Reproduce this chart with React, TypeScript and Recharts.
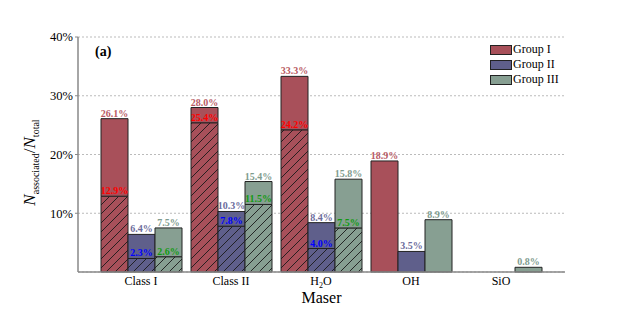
import React from "react";
import { BarChart, Bar, XAxis, YAxis, CartesianGrid, LabelList } from "recharts";

const MASERS = ["Class I", "Class II", "H2O", "OH", "SiO"];

// total fraction per group (%)
const GROUP1_TOTAL = [26.1, 28.0, 33.3, 18.9, 0];
const GROUP2_TOTAL = [6.4, 10.3, 8.4, 3.5, 0];
const GROUP3_TOTAL = [7.5, 15.4, 15.8, 8.9, 0.8];

// hatched (associated) part per group (%)
const GROUP1_INNER = [12.9, 25.4, 24.2, 0, 0];
const GROUP2_INNER = [2.3, 7.8, 4.0, 0, 0];
const GROUP3_INNER = [2.6, 11.5, 7.5, 0, 0];

const Y_TICKS = [10, 20, 30, 40];

const GROUPS = [
  { key: "g1", name: "Group I", fill: "#a8505a", top: "#b85a64", inner: "#ff0000" },
  { key: "g2", name: "Group II", fill: "#5f5f8b", top: "#6c6c9c", inner: "#0000ff" },
  { key: "g3", name: "Group III", fill: "#879f92", top: "#7f9c8f", inner: "#119a11" },
];

const FONT = "Liberation Serif, DejaVu Serif, serif";

const data = MASERS.map((m, i) => ({
  maser: m,
  g1Inner: GROUP1_INNER[i],
  g1Rest: GROUP1_TOTAL[i] - GROUP1_INNER[i],
  g1Total: GROUP1_TOTAL[i],
  g2Inner: GROUP2_INNER[i],
  g2Rest: GROUP2_TOTAL[i] - GROUP2_INNER[i],
  g2Total: GROUP2_TOTAL[i],
  g3Inner: GROUP3_INNER[i],
  g3Rest: GROUP3_TOTAL[i] - GROUP3_INNER[i],
  g3Total: GROUP3_TOTAL[i],
}));

function pctLabel(color: string) {
  return (props: any) => {
    const { x, y, width, value } = props;
    if (!value) return null;
    return (
      <text
        x={x + width / 2}
        y={y - 2}
        textAnchor="middle"
        fill={color}
        fontFamily={FONT}
        fontWeight="bold"
        fontSize={10}
      >
        {value.toFixed(1)}%
      </text>
    );
  };
}

function MaserTick({ x, y, payload }: any) {
  const v: string = payload.value;
  return (
    <text x={x} y={y + 5} textAnchor="middle" fontFamily={FONT} fontSize={12} fill="#000">
      {v === "H2O" ? (
        <>
          H<tspan fontSize={8} dy={3}>2</tspan>
          <tspan dy={-3}>O</tspan>
        </>
      ) : (
        v
      )}
    </text>
  );
}

function YTitle({ viewBox }: any) {
  const cx = 35;
  const cy = viewBox.y + viewBox.height / 2 + 8;
  return (
    <text
      x={cx}
      y={cy}
      transform={`rotate(-90 ${cx} ${cy})`}
      textAnchor="middle"
      fontFamily={FONT}
      fontSize={17}
      fill="#000"
    >
      <tspan fontStyle="italic">N</tspan>
      <tspan fontSize={10} dy={4}>associated</tspan>
      <tspan dy={-4}>/</tspan>
      <tspan fontStyle="italic">N</tspan>
      <tspan fontSize={10} dy={4}>total</tspan>
    </text>
  );
}

export default function App() {
  return (
    <div style={{ position: "absolute", left: 0, top: 0, width: 623, height: 312, background: "#fff" }}>
      <BarChart
        width={623}
        height={312}
        data={data}
        margin={{ top: 37, right: 58, bottom: 8, left: 18 }}
        barGap={0}
        barSize={27}
      >
        <defs>
          {GROUPS.map((g) => (
            <pattern
              key={g.key}
              id={`hatch-${g.key}`}
              patternUnits="userSpaceOnUse"
              width={9}
              height={9}
            >
              <rect width={9} height={9} fill={g.fill} />
              <path
                d="M0,9 L9,0 M-2,2 L2,-2 M7,11 L11,7"
                stroke="#1a1a1a"
                strokeWidth={0.9}
              />
            </pattern>
          ))}
        </defs>
        <CartesianGrid vertical={false} stroke="#bbbbbb" strokeDasharray="2 2" />
        <XAxis
          dataKey="maser"
          height={32}
          padding={{ left: 18, right: 19 }}
          tick={<MaserTick />}
          tickLine={false}
          axisLine={{ stroke: "#888", strokeWidth: 1.5 }}
          interval={0}
          label={{
            value: "Maser",
            position: "insideBottom",
            offset: 1,
            style: { fontFamily: FONT, fontSize: 16, fill: "#000" },
          }}
        />
        <YAxis
          width={60}
          domain={[0, 40]}
          ticks={Y_TICKS}
          tickFormatter={(v) => `${v}%`}
          tick={{ fontFamily: FONT, fontSize: 12.5, fill: "#000" }}
          tickLine={{ stroke: "#888" }}
          tickSize={3}
          axisLine={{ stroke: "#888", strokeWidth: 1.5 }}
          label={<YTitle />}
        />
        {GROUPS.map((g) => [
          <Bar
            key={`${g.key}-inner`}
            dataKey={`${g.key}Inner`}
            stackId={g.key}
            fill={`url(#hatch-${g.key})`}
            stroke="#222"
            strokeWidth={1}
            isAnimationActive={false}
          >
            <LabelList dataKey={`${g.key}Inner`} content={pctLabel(g.inner)} />
          </Bar>,
          <Bar
            key={`${g.key}-rest`}
            dataKey={`${g.key}Rest`}
            stackId={g.key}
            fill={g.fill}
            stroke="#222"
            strokeWidth={1}
            isAnimationActive={false}
          >
            <LabelList dataKey={`${g.key}Total`} content={pctLabel(g.top)} />
          </Bar>,
        ])}
      </BarChart>
      <div
        style={{
          position: "absolute",
          left: 95,
          top: 44,
          fontFamily: FONT,
          fontWeight: "bold",
          fontSize: 14,
        }}
      >
        (a)
      </div>
      <div style={{ position: "absolute", left: 490, top: 42, fontFamily: FONT, fontSize: 12 }}>
        {GROUPS.map((g) => (
          <div key={g.key} style={{ display: "flex", alignItems: "center", height: 15 }}>
            <span
              style={{
                display: "inline-block",
                width: 20,
                height: 8,
                background: g.fill,
                border: "1px solid #222",
              }}
            />
            <span style={{ marginLeft: 1 }}>{g.name}</span>
          </div>
        ))}
      </div>
    </div>
  );
}
